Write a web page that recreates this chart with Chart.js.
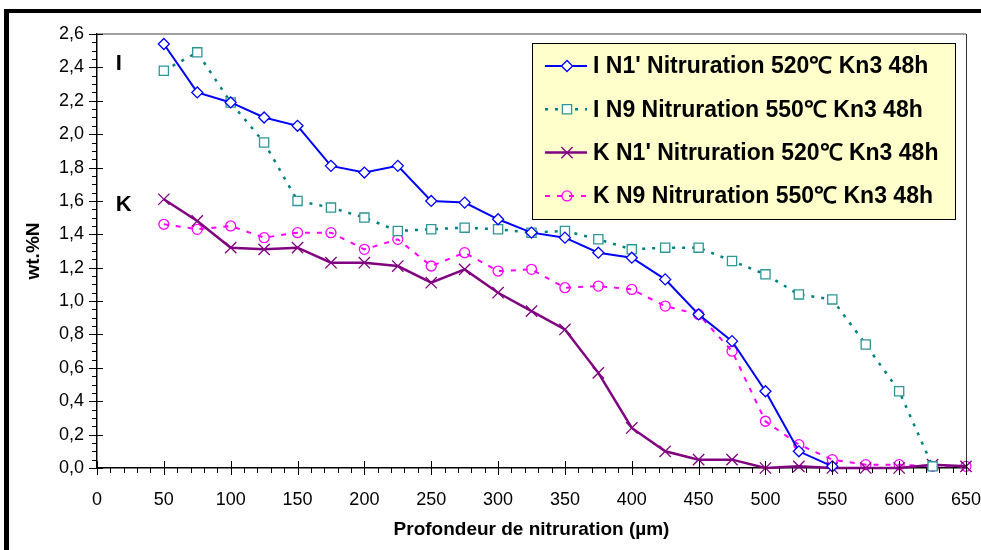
<!DOCTYPE html>
<html>
<head>
<meta charset="utf-8">
<script src="https://cdn.jsdelivr.net/npm/chart.js@4.4.0/dist/chart.umd.min.js"></script>
<style>
  html, body { margin: 0; padding: 0; background: #fff; }
  #wrap { width: 981px; height: 550px; position: relative; }
</style>
</head>
<body>
<div id="wrap"><canvas id="nitroChart"></canvas></div>
<script>
// profondeur (µm)
const depths = [50, 75, 100, 125, 150, 175, 200, 225, 250, 275, 300, 325, 350, 375, 400, 425, 450, 475, 500, 525, 550, 575, 600, 625, 650];

// wt.%N per series
const iN1 = [2.54, 2.25, 2.19, 2.10, 2.05, 1.81, 1.77, 1.81, 1.60, 1.59, 1.49, 1.41, 1.38, 1.29, 1.26, 1.13, 0.92, 0.76, 0.46, 0.10, 0.01];
const iN9 = [2.38, 2.49, 2.19, 1.95, 1.60, 1.56, 1.50, 1.42, 1.43, 1.44, 1.43, 1.41, 1.42, 1.37, 1.31, 1.32, 1.32, 1.24, 1.16, 1.04, 1.01, 0.74, 0.46, 0.01];
const kN1 = [1.61, 1.48, 1.32, 1.31, 1.32, 1.23, 1.23, 1.21, 1.11, 1.19, 1.05, 0.94, 0.83, 0.57, 0.24, 0.10, 0.05, 0.05, 0.00, 0.01, 0.00, 0.00, 0.00, 0.02, 0.01];
const kN9 = [1.46, 1.43, 1.45, 1.38, 1.41, 1.41, 1.31, 1.37, 1.21, 1.29, 1.18, 1.19, 1.08, 1.09, 1.07, 0.97, 0.92, 0.70, 0.28, 0.14, 0.05, 0.02, 0.02, 0.01, 0.01];

const seriesNames = [
  "I N1' Nitruration 520\u2103 Kn3 48h",
  "I N9 Nitruration 550\u2103 Kn3 48h",
  "K N1' Nitruration 520\u2103 Kn3 48h",
  "K N9 Nitruration 550\u2103 Kn3 48h"
];

// side labels I / K  (x in µm, y in wt.%N)
const sideLabels = ['I', 'K'];
const sideLabelX = [14, 14];
const sideLabelY = [2.42, 1.575];

const FONT = "'Liberation Sans', Arial, sans-serif";
Chart.defaults.font.family = FONT;
Chart.defaults.color = '#000';

function toPoints(vals) {
  return vals.map(function (v, i) { return { x: depths[i], y: v }; });
}

// extra drawing: frame, plot border, ticks, I/K, legend box
const decorPlugin = {
  id: 'decor',
  afterDraw(chart) {
    const ctx = chart.ctx;
    const area = chart.chartArea;
    const xs = chart.scales.x, ys = chart.scales.y;
    ctx.save();

    // outer frame (left + top)
    ctx.fillStyle = '#000';
    ctx.fillRect(4, 9, 5, 541);
    ctx.fillRect(4, 9, 977, 4);

    // plot area border top/right
    ctx.strokeStyle = '#808080';
    ctx.lineWidth = 1.5;
    ctx.beginPath();
    ctx.moveTo(area.left, area.top);
    ctx.lineTo(area.right, area.top);
    ctx.stroke();
    ctx.strokeStyle = '#333';
    ctx.lineWidth = 1;
    ctx.beginPath();
    ctx.moveTo(area.right + 0.5, area.top);
    ctx.lineTo(area.right + 0.5, area.bottom);
    ctx.stroke();

    // ticks
    ctx.strokeStyle = '#000';
    ctx.lineWidth = 1;
    ctx.beginPath();
    for (let v = 0; v <= 650.001; v += 10) {
      const px = Math.round(xs.getPixelForValue(v)) + 0.5;
      const major = Math.round(v) % 50 === 0;
      ctx.moveTo(px, area.bottom - (major ? 7 : 0));
      ctx.lineTo(px, area.bottom + (major ? 7 : 5));
    }
    for (let k = 0; k <= 52; k++) {
      const py = Math.round(ys.getPixelForValue(k * 0.05)) + 0.5;
      const major = k % 4 === 0;
      ctx.moveTo(area.left - (major ? 8 : 5), py);
      ctx.lineTo(area.left + (major ? 6 : 0), py);
    }
    ctx.stroke();

    // I / K labels
    ctx.font = 'bold 22px ' + FONT;
    ctx.fillStyle = '#000';
    ctx.textBaseline = 'middle';
    ctx.textAlign = 'left';
    sideLabels.forEach(function (t, i) {
      ctx.fillText(t, xs.getPixelForValue(sideLabelX[i]), ys.getPixelForValue(sideLabelY[i]));
    });

    // legend
    const lx = 532, ly = 43, lw = 423, lh = 176;
    ctx.fillStyle = '#FFFFCC';
    ctx.fillRect(lx, ly, lw, lh);
    ctx.strokeStyle = '#000';
    ctx.lineWidth = 1;
    ctx.strokeRect(lx + 0.5, ly + 0.5, lw, lh);

    chart.data.datasets.forEach(function (ds, i) {
      const cy = ly + 23 + i * 43.3;
      ctx.strokeStyle = ds.borderColor;
      ctx.lineWidth = ds.borderWidth;
      ctx.setLineDash(ds.borderDash || []);
      ctx.beginPath();
      ctx.moveTo(lx + 13, cy);
      ctx.lineTo(lx + 55, cy);
      ctx.stroke();
      ctx.setLineDash([]);
      ctx.fillStyle = ds.pointBackgroundColor;
      ctx.strokeStyle = ds.pointBorderColor;
      ctx.lineWidth = ds.pointBorderWidth;
      Chart.helpers.drawPoint(ctx, {
        pointStyle: ds.pointStyle, radius: ds.pointRadius, rotation: 0, borderWidth: ds.pointBorderWidth
      }, lx + 35, cy);
      ctx.fillStyle = '#000';
      ctx.font = 'bold 23px ' + FONT;
      ctx.fillText(ds.label, lx + 61, cy + 1);
    });

    ctx.restore();
  }
};

new Chart(document.getElementById('nitroChart'), {
  type: 'line',
  data: {
    datasets: [{
      label: seriesNames[0],
      data: toPoints(iN1),
      borderColor: '#0000FF',
      borderWidth: 2,
      pointStyle: 'rectRot',
      pointRadius: 5.5,
      pointBorderWidth: 1.3,
      pointBorderColor: '#0000FF',
      pointBackgroundColor: '#FFFFFF',
      clip: false
    }, {
      label: seriesNames[1],
      data: toPoints(iN9),
      borderColor: '#008080',
      borderWidth: 2.5,
      borderDash: [3, 7],
      pointStyle: 'rect',
      pointRadius: 6.5,
      pointBorderWidth: 1.3,
      pointBorderColor: '#2E9696',
      pointBackgroundColor: '#FFFFFF',
      clip: false
    }, {
      label: seriesNames[2],
      data: toPoints(kN1),
      borderColor: '#800080',
      borderWidth: 2.5,
      pointStyle: 'crossRot',
      pointRadius: 8,
      pointBorderWidth: 1.3,
      pointBorderColor: '#800080',
      pointBackgroundColor: '#800080',
      clip: false
    }, {
      label: seriesNames[3],
      data: toPoints(kN9),
      borderColor: '#FF00FF',
      borderWidth: 2,
      borderDash: [5, 7],
      pointStyle: 'circle',
      pointRadius: 5,
      pointBorderWidth: 1.3,
      pointBorderColor: '#FF00FF',
      pointBackgroundColor: 'rgba(255,255,255,0)',
      clip: false
    }]
  },
  options: {
    responsive: true,
    maintainAspectRatio: false,
    animation: false,
    layout: { padding: { top: 34, right: 15, left: 0, bottom: 0 } },
    plugins: { legend: { display: false }, tooltip: { enabled: false } },
    elements: { line: { tension: 0 } },
    scales: {
      x: {
        type: 'linear',
        min: 0,
        max: 650,
        ticks: { stepSize: 50, font: { size: 18 }, color: '#000', padding: 13, maxRotation: 0 },
        grid: { display: true, drawOnChartArea: false, drawTicks: true, tickLength: 8, color: 'rgba(0,0,0,0)' },
        border: { display: true, color: '#000', width: 1.5 },
        title: {
          display: true,
          text: 'Profondeur de nitruration (\u00b5m)',
          font: { size: 19, weight: 'bold' },
          color: '#000',
          padding: { top: 0, bottom: 9 }
        },
        afterFit(scale) {
          scale.height = 82;
          scale.paddingLeft = 0;
          scale.paddingRight = 0;
        }
      },
      y: {
        min: 0,
        max: 2.6,
        ticks: {
          stepSize: 0.2,
          font: { size: 18 },
          color: '#000',
          padding: 5,
          callback: function (v) { return v.toFixed(1).replace('.', ','); }
        },
        grid: { display: true, drawOnChartArea: false, drawTicks: true, tickLength: 8, color: 'rgba(0,0,0,0)' },
        border: { display: true, color: '#000', width: 1.5 },
        title: {
          display: true,
          text: 'wt.%N',
          font: { size: 19, weight: 'bold' },
          color: '#000',
          padding: { top: 22, bottom: 0 }
        },
        afterFit(scale) {
          scale.width = 97;
          scale.paddingTop = 0;
          scale.paddingBottom = 0;
        }
      }
    }
  },
  plugins: [decorPlugin]
});
</script>
</body>
</html>
